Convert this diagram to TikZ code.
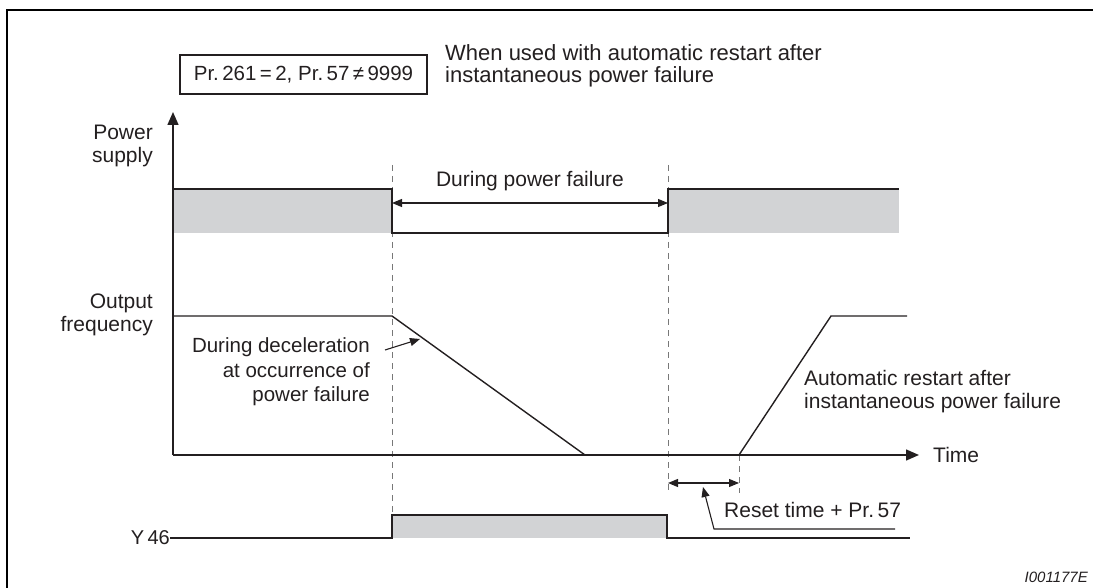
\documentclass[tikz,border=0pt]{standalone}
\usepackage{fontspec}
\setmainfont{Liberation Sans}
\usetikzlibrary{arrows.meta}
\definecolor{fillgray}{RGB}{210,211,213}
\definecolor{ink}{RGB}{35,31,32}
\definecolor{dashgray}{RGB}{120,120,120}
\begin{document}
\begin{tikzpicture}[x=1pt,y=-1pt,
  lbl/.style={font=\fontsize{21}{23}\selectfont, inner sep=0pt, text=ink},
  headlbl/.style={font=\fontsize{22}{22}\selectfont, inner sep=0pt, text=ink},
  sig/.style={draw=ink, line width=1.4pt},
  thinline/.style={draw=ink, line width=1.1pt},
  guide/.style={draw=dashgray, line width=0.9pt, dash pattern=on 6pt off 5pt},
  bigtip/.style={-{Triangle[length=13pt,width=11pt]}},
  smalltip/.style={-{Triangle[length=10pt,width=8pt]}},
  dbltip/.style={{Triangle[length=10pt,width=8pt]}-{Triangle[length=10pt,width=8pt]}}]
\useasboundingbox (0,0) rectangle (1093,588);
% frame
\draw[line width=2.4pt, line cap=rect] (7,588) -- (7,10) -- (1093,10);

% condition box and note
\node[headlbl, font=\fontsize{20.5}{22}\selectfont, draw=ink, line width=1.1pt, minimum width=247pt, minimum height=39pt] (cond) at (303.5,74.5) {Pr.\,261\,=\,2, Pr.\,57\,≠\,9999};
\node[headlbl, anchor=west, align=left] (note) at (445,66) {When used with automatic restart after\\instantaneous power failure};

% gray areas
\fill[fillgray] (173,189) rectangle (392,233);
\fill[fillgray] (668,189) rectangle (899,233);
\fill[fillgray] (392,515) rectangle (667,538);

% guide lines
\coordinate (g1t) at (392,165); \coordinate (g1b) at (392,515);
\coordinate (g2t) at (668,165); \coordinate (g2b) at (668,493);
\coordinate (g3t) at (739,455); \coordinate (g3b) at (739,493);
\draw[guide] (g1t) -- (g1b);
\draw[guide] (g2t) -- (g2b);
\draw[guide] (g3t) -- (g3b);

% axes
\coordinate (origin) at (173,455);
\coordinate (ytop) at (173,112);
\coordinate (xend) at (919,455);
\draw[sig, bigtip] (origin) -- (ytop);
\draw[sig, bigtip] (origin) -- (xend);
\node[lbl, anchor=west] (time) at (933,455) {Time};

% power supply signal
\draw[sig] (173,189) -- (392,189) -- (392,233) -- (668,233) -- (668,189) -- (899,189);
\draw[thinline, dbltip] (392,203) -- (668,203);
\node[lbl] (pf) at (530,181) {During power failure};
\node[lbl, anchor=east, align=right] (ps) at (153,146) {Power\\supply};

% output frequency
\draw[sig] (173,316) -- (392,316) -- (585,455);
\draw[sig] (739,455) -- (831,316) -- (907,316);
\node[lbl, anchor=east, align=right] (of) at (153,315) {Output\\frequency};
\node[lbl, font=\fontsize{20.5}{24.5}\selectfont, anchor=east, align=right] (dec) at (370,372) {During deceleration\\at occurrence of\\power failure};
\coordinate (decp) at (420,339);
\draw[thinline, smalltip] (385,350) -- (decp);
\node[lbl, anchor=west, align=left] (ar) at (804,392) {Automatic restart after\\instantaneous power failure};

% reset time
\draw[thinline, dbltip] (668,483) -- (739,483);
\coordinate (rs1) at (895,529);
\coordinate (rs2) at (714,529);
\coordinate (rs3) at (703,487);
\draw[thinline, smalltip] (rs1) -- (rs2) -- (rs3);
\node[lbl, anchor=west] (rt) at (724,510) {Reset time + Pr.\,57};

% Y46
\draw[sig] (170,538) -- (392,538) -- (392,515) -- (667,515) -- (667,538) -- (910,538);
\node[lbl, font=\fontsize{20}{22}\selectfont, anchor=east] (y46) at (170,538) {Y\,46};

% id
\node[font=\fontsize{15}{17}\selectfont\itshape, inner sep=0pt, anchor=east, text=ink] (id) at (1088,577) {I001177E};
\end{tikzpicture}
\end{document}
